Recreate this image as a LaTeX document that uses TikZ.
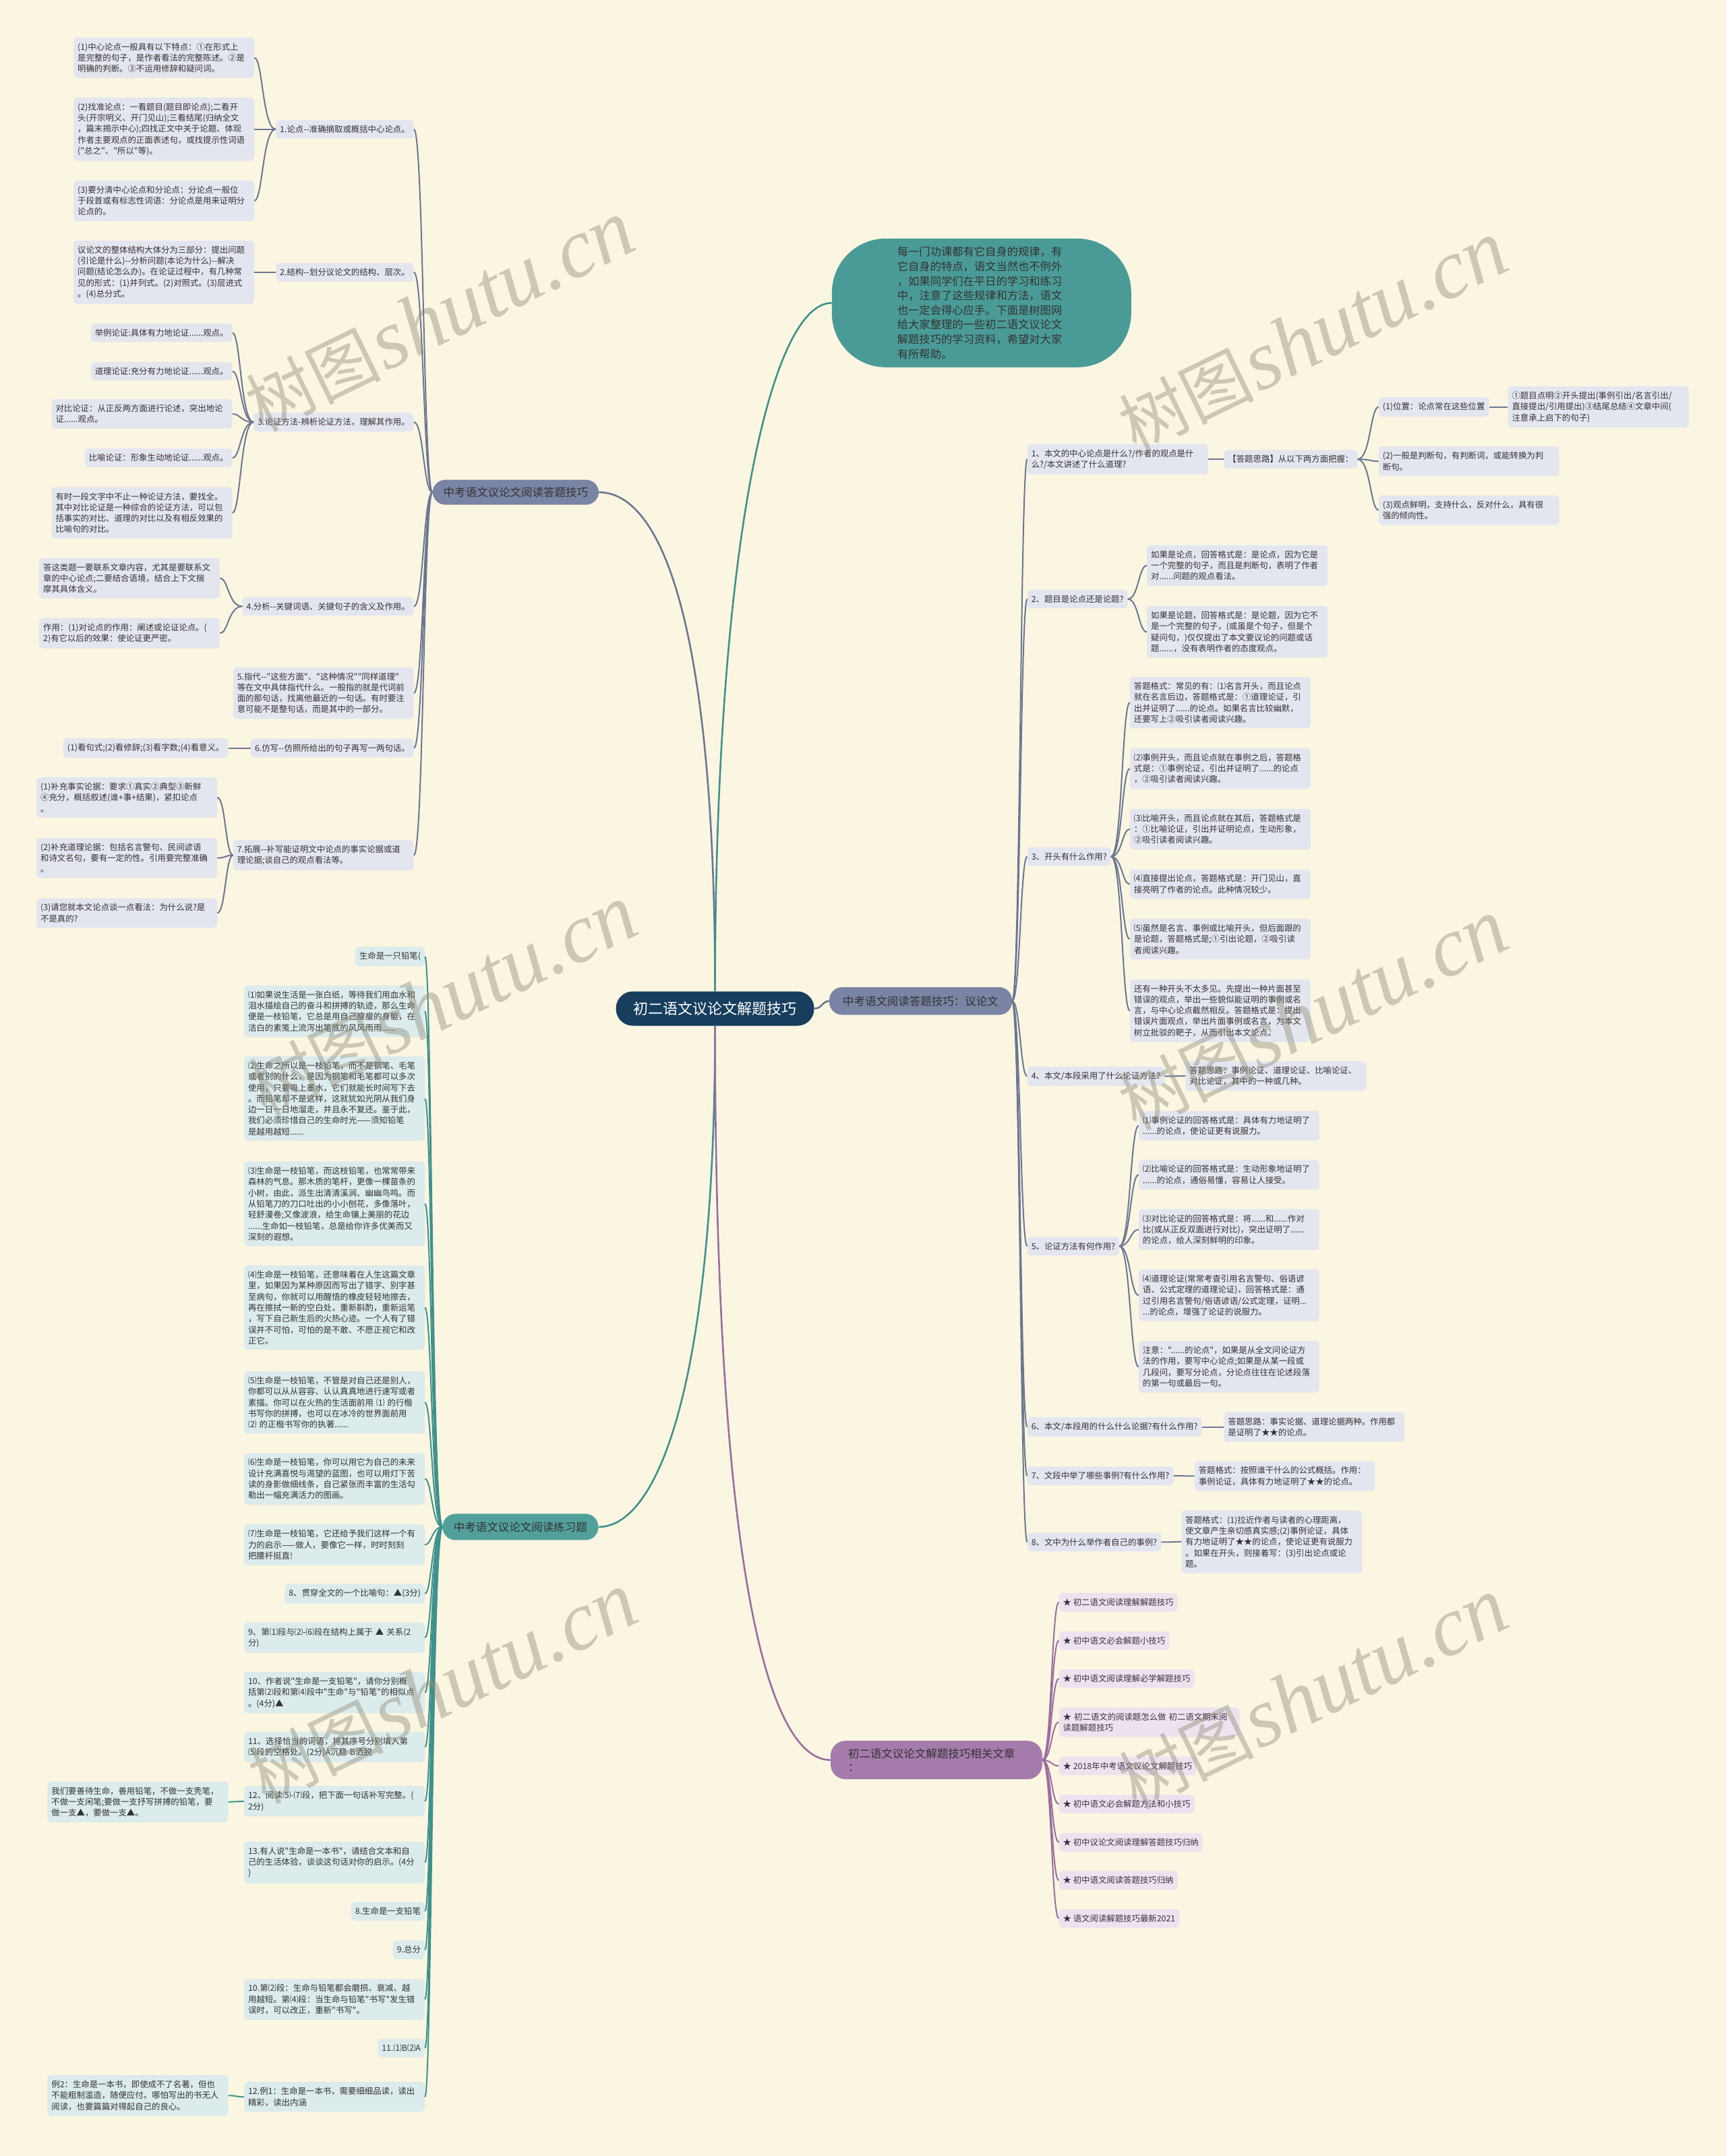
\documentclass[tikz,border=0pt]{standalone}
\usepackage{fontspec}
\newfontfamily\cjk{Noto Sans CJK SC}
\newfontfamily\wmlat{Liberation Serif}
\definecolor{bg}{HTML}{FBF6E1}
\definecolor{gfill}{HTML}{E4E6EF}
\definecolor{tfill}{HTML}{DCEBEC}
\definecolor{pfill}{HTML}{ECE3EE}
\definecolor{slate}{HTML}{7A84A4}
\definecolor{tealc}{HTML}{52A09C}
\definecolor{bubc}{HTML}{4A9B97}
\definecolor{purp}{HTML}{A57BAC}
\definecolor{rootc}{HTML}{173E5D}
\definecolor{lineS}{HTML}{6C7693}
\definecolor{lineT}{HTML}{3E918D}
\definecolor{lineP}{HTML}{9B6CA1}
\definecolor{txt}{HTML}{333333}
\definecolor{ptxt}{HTML}{3F2F46}
\definecolor{wmc}{HTML}{8C8A78}
\newcommand\lnkL[4][]{\draw[#1] (#2.west) .. controls (#4 |- #2.west) and (#4 |- #3.east) .. (#3.east);}
\newcommand\lnkR[4][]{\draw[#1] (#2.east) .. controls (#4 |- #2.east) and (#4 |- #3.west) .. (#3.west);}
\newcommand\wmtext{{\cjk\fontsize{100}{100}\selectfont 树图} {\wmlat\itshape\fontsize{125}{125}\selectfont shutu.cn}}
\begin{document}
\begin{tikzpicture}[x=2.04pt,y=-2.04pt,
 gb/.style={fill=gfill, rounded corners=5pt, inner xsep=6pt, inner ysep=8pt, align=left, text=txt, font={\cjk\fontsize{12.4}{16.3}\selectfont}},
 tb/.style={gb, fill=tfill},
 pb/.style={gb, fill=pfill, text=ptxt},
 ml/.style={text width=256pt},
 br/.style={rounded corners=19pt, inner xsep=16pt, inner ysep=4pt, text=txt, font={\cjk\fontsize{16.5}{20}\selectfont}},
 lS/.style={draw=lineS, line width=2pt},
 lT/.style={draw=lineT, line width=2pt},
 lP/.style={draw=lineP, line width=2pt},
 wm/.style={text=wmc, opacity=0.42, rotate=26, inner sep=0pt}]
\fill[bg] (0,0) rectangle (1255,1568);
\useasboundingbox (0,0) rectangle (1255,1568);

% ---------- main nodes ----------
\node[fill=rootc, text=white, rounded corners=25pt, minimum height=51pt, minimum width=294pt, inner xsep=20pt, font={\cjk\fontsize{22}{26}\selectfont}] (R) at (520,733.5) {初二语文议论文解题技巧};
\node[br, fill=slate, minimum width=245pt, minimum height=37pt] (A) at (375,358) {中考语文议论文阅读答题技巧};
\node[br, fill=tealc, minimum width=231pt, minimum height=39pt] (B) at (378.5,1110.5) {中考语文议论文阅读练习题};
\node[br, fill=slate, minimum width=271pt, minimum height=41pt] (C) at (669.5,728) {中考语文阅读答题技巧：议论文};
\node[br, fill=purp, rounded corners=22pt, text width=262pt, inner xsep=26pt, minimum height=57pt, align=left] (D) at (681,1280) {初二语文议论文解题技巧相关文章\\：};
\node[fill=bubc, rounded corners=80pt, minimum width=444pt, minimum height=191pt, text width=250pt, align=left, text=txt, font={\cjk\fontsize{16.3}{21.6}\selectfont}] (T) at (713.8,220.3) {每一门功课都有它自身的规律，有\\它自身的特点，语文当然也不例外\\，如果同学们在平日的学习和练习\\中，注意了这些规律和方法，语文\\也一定会得心应手。下面是树图网\\给大家整理的一些初二语文议论文\\解题技巧的学习资料，希望对大家\\有所帮助。};

% ---------- group A ----------
\node[gb, anchor=east] (A1) at (301,94) {1.论点--准确摘取或概括中心论点。};
\node[gb, ml, anchor=east] (A1a) at (185,42) {(1)中心论点一般具有以下特点：①在形式上\\是完整的句子，是作者看法的完整陈述。②是\\明确的判断。③不运用修辞和疑问词。};
\node[gb, ml, anchor=east] (A1b) at (185,94) {(2)找准论点：一看题目(题目即论点);二看开\\头(开宗明义、开门见山);三看结尾(归纳全文\\，篇末揭示中心);四找正文中关于论题、体现\\作者主要观点的正面表述句，或找提示性词语\\("总之"、"所以"等)。};
\node[gb, ml, anchor=east] (A1c) at (185,146) {(3)要分清中心论点和分论点：分论点一般位\\于段首或有标志性词语：分论点是用来证明分\\论点的。};
\node[gb, anchor=east] (A2) at (301,198) {2.结构--划分议论文的结构、层次。};
\node[gb, ml, anchor=east] (A2a) at (185,198) {议论文的整体结构大体分为三部分：提出问题\\(引论是什么)--分析问题(本论为什么)--解决\\问题(结论怎么办)。在论证过程中，有几种常\\见的形式：(1)并列式。(2)对照式。(3)层进式\\。(4)总分式。};
\node[gb, anchor=east] (A3) at (301,307) {3.论证方法-辨析论证方法，理解其作用。};
\node[gb, anchor=east] (A3a) at (169,242) {举例论证:具体有力地论证......观点。};
\node[gb, anchor=east] (A3b) at (169,270) {道理论证:充分有力地论证......观点。};
\node[gb, ml, anchor=east] (A3c) at (169,301) {对比论证：从正反两方面进行论述，突出地论\\证......观点。};
\node[gb, anchor=east] (A3d) at (169,333) {比喻论证：形象生动地论证......观点。};
\node[gb, ml, anchor=east] (A3e) at (169,373) {有时一段文字中不止一种论证方法，要找全。\\其中对比论证是一种综合的论证方法，可以包\\括事实的对比、道理的对比以及有相反效果的\\比喻句的对比。};
\node[gb, anchor=east] (A4) at (301,441) {4.分析--关键词语、关键句子的含义及作用。};
\node[gb, ml, anchor=east] (A4a) at (160,420.5) {答这类题一要联系文章内容，尤其是要联系文\\章的中心论点;二要结合语境，结合上下文揣\\摩其具体含义。};
\node[gb, ml, anchor=east] (A4b) at (160,460.5) {作用：(1)对论点的作用：阐述或论证论点。(\\2)有它以后的效果：使论证更严密。};
\node[gb, ml, anchor=east] (A5) at (301,504) {5.指代--"这些方面"、"这种情况""同样道理"\\等在文中具体指代什么。一般指的就是代词前\\面的那句话，找离他最近的一句话。有时要注\\意可能不是整句话，而是其中的一部分。};
\node[gb, anchor=east] (A6) at (301,544) {6.仿写--仿照所给出的句子再写一两句话。};
\node[gb, anchor=east] (A6a) at (166,544) {(1)看句式;(2)看修辞;(3)看字数;(4)看意义。};
\node[gb, ml, anchor=east] (A7) at (301,622) {7.拓展--补写能证明文中论点的事实论据或道\\理论据;谈自己的观点看法等。};
\node[gb, ml, anchor=east] (A7a) at (158,580) {(1)补充事实论据：要求①真实②典型③新鲜\\④充分，概括叙述(谁+事+结果)，紧扣论点\\。};
\node[gb, ml, anchor=east] (A7b) at (158,624) {(2)补充道理论据：包括名言警句、民间谚语\\和诗文名句，要有一定的性。引用要完整准确\\。};
\node[gb, ml, anchor=east] (A7c) at (158,664) {(3)请您就本文论点谈一点看法：为什么说?是\\不是真的?};

% ---------- group B ----------
\node[tb, anchor=east] (B1) at (309,695.7) {生命是一只铅笔(};
\node[tb, ml, anchor=east] (B2) at (309,735.5) {⑴如果说生活是一张白纸，等待我们用血水和\\泪水描绘自己的奋斗和拼搏的轨迹，那么生命\\便是一枝铅笔，它总是用自己瘦瘦的身躯，在\\洁白的素笺上流泻出笔底的风风雨雨......};
\node[tb, ml, anchor=east] (B3) at (309,799) {⑵生命之所以是一枝铅笔，而不是钢笔、毛笔\\或者别的什么，是因为钢笔和毛笔都可以多次\\使用，只要吸上墨水，它们就能长时间写下去\\。而铅笔却不是这样，这就犹如光阴从我们身\\边一日一日地溜走，并且永不复还。鉴于此，\\我们必须珍惜自己的生命时光——须知铅笔\\是越用越短......};
\node[tb, ml, anchor=east] (B4) at (309,875.5) {⑶生命是一枝铅笔，而这枝铅笔，也常常带来\\森林的气息。那木质的笔杆，更像一棵苗条的\\小树，由此，派生出清清溪涧、幽幽鸟鸣。而\\从铅笔刀的刀口吐出的小小刨花，多像落叶，\\轻舒漫卷;又像波浪，给生命镶上美丽的花边\\......生命如一枝铅笔，总是给你许多优美而又\\深刻的遐想。};
\node[tb, ml, anchor=east] (B5) at (309,951) {⑷生命是一枝铅笔，还意味着在人生这篇文章\\里，如果因为某种原因而写出了错字、别字甚\\至病句，你就可以用醒悟的橡皮轻轻地擦去，\\再在擦拭一新的空白处，重新斟酌，重新运笔\\，写下自己新生后的火热心迹。一个人有了错\\误并不可怕，可怕的是不敢、不愿正视它和改\\正它。};
\node[tb, ml, anchor=east] (B6) at (309,1020) {⑸生命是一枝铅笔，不管是对自己还是别人，\\你都可以从从容容、认认真真地进行速写或者\\素描。你可以在火热的生活面前用 ⑴ 的行楷\\书写你的拼搏，也可以在冰冷的世界面前用\\⑵ 的正楷书写你的执著......};
\node[tb, ml, anchor=east] (B7) at (309,1075.5) {⑹生命是一枝铅笔，你可以用它为自己的未来\\设计充满喜悦与渴望的蓝图，也可以用灯下苦\\读的身影做细线条，自己紧张而丰富的生活勾\\勒出一幅充满活力的图画。};
\node[tb, ml, anchor=east] (B8) at (309,1123.5) {⑺生命是一枝铅笔，它还给予我们这样一个有\\力的启示——做人，要像它一样，时时刻刻\\把腰杆挺直!};
\node[tb, anchor=east] (B9) at (309,1159) {8、贯穿全文的一个比喻句：▲(3分)};
\node[tb, ml, anchor=east] (B10) at (309,1191) {9、第⑴段与⑵-⑹段在结构上属于 ▲ 关系(2\\分)};
\node[tb, ml, anchor=east] (B11) at (309,1231) {10、作者说"生命是一支铅笔"，请你分别概\\括第⑵段和第⑷段中"生命"与"铅笔"的相似点\\。(4分)▲};
\node[tb, ml, anchor=east] (B12) at (309,1270.5) {11、选择恰当的词语，将其序号分别填入第\\⑸段的空格处。(2分)A沉稳 B洒脱};
\node[tb, ml, anchor=east] (B13) at (309,1310) {12、阅读⑸-⑺段，把下面一句话补写完整。(\\2分)};
\node[tb, ml, anchor=east] (B13a) at (166,1310.5) {我们要善待生命，善用铅笔，不做一支秃笔，\\不做一支闲笔;要做一支抒写拼搏的铅笔，要\\做一支▲，要做一支▲。};
\node[tb, ml, anchor=east] (B14) at (309,1354.5) {13.有人说"生命是一本书"，请结合文本和自\\己的生活体验，谈谈这句话对你的启示。(4分\\)};
\node[tb, anchor=east] (B15) at (309,1390) {8.生命是一支铅笔};
\node[tb, anchor=east] (B16) at (309,1418) {9.总分};
\node[tb, ml, anchor=east] (B17) at (309,1454) {10.第⑵段：生命与铅笔都会磨损、衰减、越\\用越短。第⑷段：当生命与铅笔"书写"发生错\\误时，可以改正，重新"书写"。};
\node[tb, anchor=east] (B18) at (309,1489.5) {11.⑴B⑵A};
\node[tb, ml, anchor=east] (B19) at (309,1525) {12.例1：生命是一本书，需要细细品读，读出\\精彩，读出内涵};
\node[tb, ml, anchor=east] (B19a) at (166,1524) {例2：生命是一本书，即使成不了名著，但也\\不能粗制滥造，随便应付。哪怕写出的书无人\\阅读，也要篇篇对得起自己的良心。};

% ---------- group C ----------
\node[gb, ml, anchor=west] (C1) at (747,334) {1、本文的中心论点是什么?/作者的观点是什\\么?/本文讲述了什么道理?};
\node[gb, anchor=west] (C1x) at (890,334) {【答题思路】从以下两方面把握：};
\node[gb, anchor=west] (C1a) at (1002.5,296) {(1)位置：论点常在这些位置};
\node[gb, ml, anchor=west] (C1aa) at (1096.5,296) {①题目点明②开头提出(事例引出/名言引出/\\直接提出/引用提出)③结尾总结④文章中间(\\注意承上启下的句子)};
\node[gb, ml, anchor=west] (C1b) at (1002.5,335.5) {(2)一般是判断句，有判断词，或能转换为判\\断句。};
\node[gb, ml, anchor=west] (C1c) at (1002.5,371) {(3)观点鲜明，支持什么，反对什么，具有很\\强的倾向性。};
\node[gb, anchor=west] (C2) at (747,435.7) {2、题目是论点还是论题?};
\node[gb, ml, anchor=west] (C2a) at (834,411.3) {如果是论点，回答格式是：是论点，因为它是\\一个完整的句子，而且是判断句，表明了作者\\对......问题的观点看法。};
\node[gb, ml, anchor=west] (C2b) at (834,459.6) {如果是论题，回答格式是：是论题，因为它不\\是一个完整的句子，(或虽是个句子，但是个\\疑问句，)仅仅提出了本文要议论的问题或话\\题......，没有表明作者的态度观点。};
\node[gb, anchor=west] (C3) at (747,623) {3、开头有什么作用?};
\node[gb, ml, anchor=west] (C3a) at (821.6,511) {答题格式：常见的有：⑴名言开头，而且论点\\就在名言后边，答题格式是：①道理论证，引\\出并证明了......的论点。如果名言比较幽默，\\还要写上②吸引读者阅读兴趣。};
\node[gb, ml, anchor=west] (C3b) at (821.6,559) {⑵事例开头，而且论点就在事例之后，答题格\\式是：①事例论证，引出并证明了......的论点\\，②吸引读者阅读兴趣。};
\node[gb, ml, anchor=west] (C3c) at (821.6,603) {⑶比喻开头，而且论点就在其后，答题格式是\\：①比喻论证，引出并证明论点，生动形象，\\②吸引读者阅读兴趣。};
\node[gb, ml, anchor=west] (C3d) at (821.6,643) {⑷直接提出论点，答题格式是：开门见山，直\\接亮明了作者的论点。此种情况较少。};
\node[gb, ml, anchor=west] (C3e) at (821.6,683) {⑸虽然是名言、事例或比喻开头，但后面跟的\\是论题，答题格式是;①引出论题，②吸引读\\者阅读兴趣。};
\node[gb, ml, anchor=west] (C3f) at (821.6,735) {还有一种开头不太多见。先提出一种片面甚至\\错误的观点，举出一些貌似能证明的事例或名\\言，与中心论点截然相反。答题格式是：提出\\错误片面观点，举出片面事例或名言，为本文\\树立批驳的靶子，从而引出本文论点。};
\node[gb, anchor=west] (C4) at (747,782.7) {4、本文/本段采用了什么论证方法?};
\node[gb, ml, anchor=west] (C4a) at (862,782.5) {答题思路：事例论证、道理论证、比喻论证、\\对比论证，其中的一种或几种。};
\node[gb, anchor=west] (C5) at (747,906.3) {5、论证方法有何作用?};
\node[gb, ml, anchor=west] (C5a) at (828,818.7) {⑴事例论证的回答格式是：具体有力地证明了\\......的论点，使论证更有说服力。};
\node[gb, ml, anchor=west] (C5b) at (828,854.3) {⑵比喻论证的回答格式是：生动形象地证明了\\......的论点，通俗易懂，容易让人接受。};
\node[gb, ml, anchor=west] (C5c) at (828,894.2) {⑶对比论证的回答格式是：将......和......作对\\比(或从正反双面进行对比)，突出证明了......\\的论点，给人深刻鲜明的印象。};
\node[gb, ml, anchor=west] (C5d) at (828,942) {⑷道理论证(常常考查引用名言警句、俗语谚\\语、公式定理的道理论证)，回答格式是：通\\过引用名言警句/俗语谚语/公式定理，证明...\\...的论点，增强了论证的说服力。};
\node[gb, ml, anchor=west] (C5e) at (828,994) {注意："......的论点"，如果是从全文问论证方\\法的作用，要写中心论点;如果是从某一段或\\几段问，要写分论点，分论点往往在论述段落\\的第一句或最后一句。};
\node[gb, anchor=west] (C6) at (747,1037.8) {6、本文/本段用的什么什么论据?有什么作用?};
\node[gb, ml, anchor=west] (C6a) at (890,1037.8) {答题思路：事实论据、道理论据两种。作用都\\是证明了★★的论点。};
\node[gb, anchor=west] (C7) at (747,1073.3) {7、文段中举了哪些事例?有什么作用?};
\node[gb, ml, anchor=west] (C7a) at (868.6,1073.5) {答题格式：按照谁干什么的公式概括。作用：\\事例论证，具体有力地证明了★★的论点。};
\node[gb, anchor=west] (C8) at (747,1121.5) {8、文中为什么举作者自己的事例?};
\node[gb, ml, anchor=west] (C8a) at (859,1121.3) {答题格式：(1)拉近作者与读者的心理距离，\\使文章产生亲切感真实感;(2)事例论证，具体\\有力地证明了★★的论点，使论证更有说服力\\。如果在开头，则接着写：(3)引出论点或论\\题。};

% ---------- group D ----------
\node[pb, anchor=west] (D1) at (770,1165.3) {★ 初二语文阅读理解解题技巧};
\node[pb, anchor=west] (D2) at (770,1193.2) {★ 初中语文必会解题小技巧};
\node[pb, anchor=west] (D3) at (770,1220.8) {★ 初中语文阅读理解必学解题技巧};
\node[pb, ml, anchor=west] (D4) at (770,1252.5) {★ 初二语文的阅读题怎么做 初二语文期末阅\\读题解题技巧};
\node[pb, anchor=west] (D5) at (770,1284.3) {★ 2018年中考语文议论文解题技巧};
\node[pb, anchor=west] (D6) at (770,1312) {★ 初中语文必会解题方法和小技巧};
\node[pb, anchor=west] (D7) at (770,1339.8) {★ 初中议论文阅读理解答题技巧归纳};
\node[pb, anchor=west] (D8) at (770,1367.5) {★ 初中语文阅读答题技巧归纳};
\node[pb, anchor=west] (D9) at (770,1395.2) {★ 语文阅读解题技巧最新2021};

% ---------- spine coordinates ----------
\coordinate (sA) at (308,0);
\coordinate (sA1) at (191,0);
\coordinate (sA3) at (175,0);
\coordinate (sA4) at (166,0);
\coordinate (sA6) at (172,0);
\coordinate (sA7) at (164,0);
\coordinate (sB) at (314,0);
\coordinate (sBx) at (172,0);
\coordinate (sC) at (742,0);
\coordinate (sC1) at (884,0);
\coordinate (sC1x) at (996.6,0);
\coordinate (sC1a) at (1092,0);
\coordinate (sC2) at (828,0);
\coordinate (sC3) at (816,0);
\coordinate (sC4) at (856,0);
\coordinate (sC5) at (822,0);
\coordinate (sC6) at (884,0);
\coordinate (sC7) at (862.5,0);
\coordinate (sC8) at (853,0);
\coordinate (sD) at (764.7,0);

% ---------- root connectors ----------
\draw[lS, line width=2.6pt] (R.north) .. controls (520,450) and (480,358) .. (A.east);
\draw[lT, line width=2.6pt] (R.north) .. controls (520,400) and (560,220.3) .. (T.west);
\draw[lS, line width=2.6pt] (R.east) .. controls (598,733.5) and (598,728) .. (C.west);
\draw[lT, line width=2.6pt] (R.south) .. controls (520,1000) and (480,1110.5) .. (B.east);
\draw[lP, line width=2.6pt] (R.south) .. controls (520,1150) and (560,1280) .. (D.west);

% ---------- group A connectors ----------
\foreach \c in {A1,A2,A3,A4,A5,A6,A7} {\lnkL[lS]{A}{\c}{sA}}
\foreach \c in {A1a,A1b,A1c} {\lnkL[lS]{A1}{\c}{sA1}}
\lnkL[lS]{A2}{A2a}{sA1}
\foreach \c in {A3a,A3b,A3c,A3d,A3e} {\lnkL[lS]{A3}{\c}{sA3}}
\foreach \c in {A4a,A4b} {\lnkL[lS]{A4}{\c}{sA4}}
\lnkL[lS]{A6}{A6a}{sA6}
\foreach \c in {A7a,A7b,A7c} {\lnkL[lS]{A7}{\c}{sA7}}

% ---------- group B connectors ----------
\foreach \c in {B1,B2,B3,B4,B5,B6,B7,B8,B9,B10,B11,B12,B13,B14,B15,B16,B17,B18,B19} {\lnkL[lT]{B}{\c}{sB}}
\lnkL[lT]{B13}{B13a}{sBx}
\lnkL[lT]{B19}{B19a}{sBx}

% ---------- group C connectors ----------
\foreach \c in {C1,C2,C3,C4,C5,C6,C7,C8} {\lnkR[lS]{C}{\c}{sC}}
\lnkR[lS]{C1}{C1x}{sC1}
\foreach \c in {C1a,C1b,C1c} {\lnkR[lS]{C1x}{\c}{sC1x}}
\lnkR[lS]{C1a}{C1aa}{sC1a}
\foreach \c in {C2a,C2b} {\lnkR[lS]{C2}{\c}{sC2}}
\foreach \c in {C3a,C3b,C3c,C3d,C3e,C3f} {\lnkR[lS]{C3}{\c}{sC3}}
\lnkR[lS]{C4}{C4a}{sC4}
\foreach \c in {C5a,C5b,C5c,C5d,C5e} {\lnkR[lS]{C5}{\c}{sC5}}
\lnkR[lS]{C6}{C6a}{sC6}
\lnkR[lS]{C7}{C7a}{sC7}
\lnkR[lS]{C8}{C8a}{sC8}

% ---------- group D connectors ----------
\foreach \c in {D1,D2,D3,D4,D5,D6,D7,D8,D9} {\lnkR[lP]{D}{\c}{sD}}

% ---------- watermarks ----------
\node[wm] (W1) at (320,230) {\wmtext};
\node[wm] (W2) at (955,245) {\wmtext};
\node[wm] (W3) at (322,728) {\wmtext};
\node[wm] (W4) at (955,738) {\wmtext};
\node[wm] (W5) at (322,1228) {\wmtext};
\node[wm] (W6) at (955,1232) {\wmtext};
\end{tikzpicture}
\end{document}
